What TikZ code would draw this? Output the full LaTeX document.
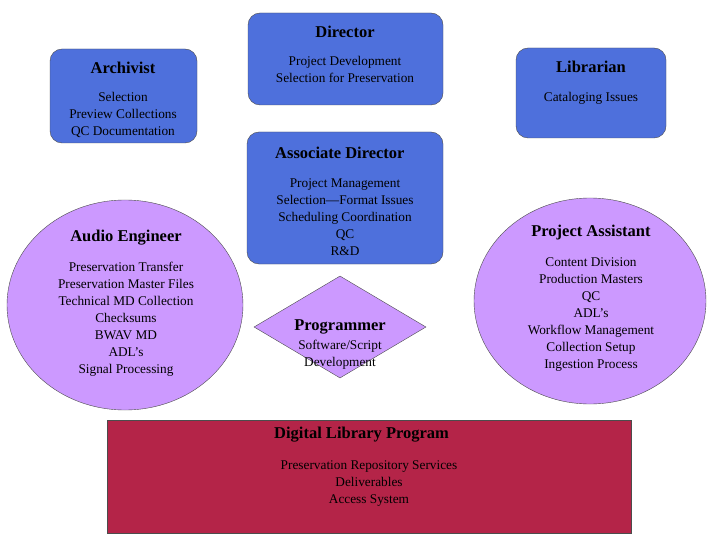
\documentclass[tikz,border=0pt]{standalone}
\usepackage{fontspec}
\setmainfont{Liberation Serif}
\usetikzlibrary{shapes.geometric}
\definecolor{boxblue}{RGB}{78,112,220}
\definecolor{lilac}{RGB}{204,153,255}
\definecolor{crimson}{RGB}{180,36,72}
\begin{document}
\begin{tikzpicture}[x=1pt,y=-1pt,
  blk/.style={draw=black!70,fill=boxblue,rounded corners=12pt},
  ell/.style={draw=black!70,fill=lilac,ellipse,inner sep=0pt},
  ttl/.style={font=\fontsize{16.5}{17}\selectfont\bfseries,inner sep=0pt},
  txt/.style={font=\fontsize{13.3}{17}\selectfont,align=center,inner sep=0pt,anchor=north}]
\useasboundingbox (0,0) rectangle (720,540);
\path[fill=white] (0,0) rectangle (720,540);
% Director
\node[blk,minimum width=195pt,minimum height=92pt] (dir) at (345.5,59) {};
\node[ttl] (dirt) at (345,32) {Director};
\node[txt] (dirx) at (345,56) {Project Development\\Selection for Preservation};
% Archivist
\node[blk,minimum width=147pt,minimum height=94pt] (arc) at (123.5,96) {};
\node[ttl] (arct) at (123,68) {Archivist};
\node[txt] (arcx) at (123,92) {Selection\\Preview Collections\\QC Documentation};
% Librarian
\node[blk,minimum width=150pt,minimum height=90pt] (lib) at (591,93) {};
\node[ttl] (libt) at (591,67) {Librarian};
\node[txt] (libx) at (591,92) {Cataloging Issues};
% Associate Director
\node[blk,minimum width=196pt,minimum height=132pt] (ad) at (345,198) {};
\node[ttl,anchor=west] (adt) at (275,153) {Associate Director};
\node[txt] (adx) at (345,178) {Project Management\\Selection---Format Issues\\Scheduling Coordination\\QC\\R\&D};
% Audio Engineer
\node[ell,minimum width=236pt,minimum height=210pt] (ae) at (125,305) {};
\node[ttl] (aet) at (126,238) {Audio Engineer};
\node[txt] (aex) at (126,262) {Preservation Transfer\\Preservation Master Files\\Technical MD Collection\\Checksums\\BWAV MD\\ADL's\\Signal Processing};
% Project Assistant
\node[ell,minimum width=232pt,minimum height=206pt] (pa) at (590,301) {};
\node[ttl] (pat) at (591,233) {Project Assistant};
\node[txt] (pax) at (591,257) {Content Division\\Production Masters\\QC\\ADL's\\Workflow Management\\Collection Setup\\Ingestion Process};
% Programmer
\node[draw=black!70,fill=lilac,diamond,minimum width=172pt,minimum height=102pt,inner sep=0pt,aspect=1.7] (pr) at (340,327) {};
\node[ttl] (prt) at (340,327) {Programmer};
\node[txt] (prx) at (340,340) {Software/Script\\Development};
% Digital Library Program
\node[draw=black!70,fill=crimson,minimum width=524pt,minimum height=113pt,inner sep=0pt] (dl) at (369,476.5) {};
\node[ttl,anchor=west] (dlt) at (274,435) {Digital Library Program};
\node[txt] (dlx) at (369,460) {Preservation Repository Services\\Deliverables\\Access System};
\end{tikzpicture}
\end{document}
